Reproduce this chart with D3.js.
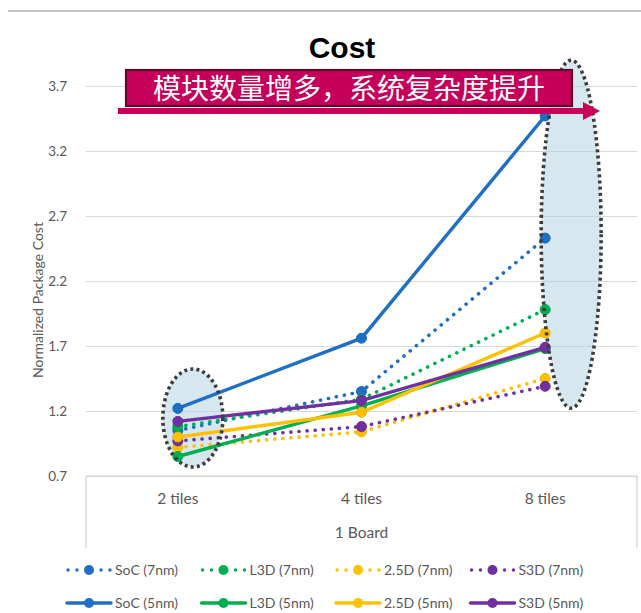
<!DOCTYPE html>
<html>
<head>
<meta charset="utf-8">
<script src="https://cdn.jsdelivr.net/npm/d3@7/dist/d3.min.js"></script>
<style>
  html, body { margin: 0; padding: 0; background: #ffffff; }
  svg { display: block; }
</style>
</head>
<body>
<svg id="chart" width="641" height="613"></svg>
<script>
// Package cost by tile count, normalized
const categories = ["2 tiles", "4 tiles", "8 tiles"];
const groupLabel = "1 Board";
const yTicks = [0.7, 1.2, 1.7, 2.2, 2.7, 3.2, 3.7];

const seriesNames = ["SoC (7nm)", "L3D (7nm)", "2.5D (7nm)", "S3D (7nm)",
                     "SoC (5nm)", "L3D (5nm)", "2.5D (5nm)", "S3D (5nm)"];
const soc7  = [1.05, 1.35, 2.53];
const l3d7  = [1.08, 1.29, 1.98];
const d25_7 = [0.92, 1.04, 1.45];
const s3d7  = [0.97, 1.08, 1.39];
const soc5  = [1.22, 1.76, 3.47];
const l3d5  = [0.85, 1.24, 1.68];
const d25_5 = [1.00, 1.19, 1.80];
const s3d5  = [1.12, 1.28, 1.69];
const seriesValues = [soc7, l3d7, d25_7, s3d7, soc5, l3d5, d25_5, s3d5];
const seriesColors = ["#1f6fc5", "#00b050", "#ffc000", "#7030a0",
                      "#1f6fc5", "#00b050", "#ffc000", "#7030a0"];
const seriesDotted = [true, true, true, true, false, false, false, false];

const titleText = "Cost";
const yAxisTitle = "Normalized Package Cost";
const bannerText = "模块数量增多，系统复杂度提升";

const svg = d3.select("#chart");
const font = "Lato, 'Open Sans', 'Liberation Sans', sans-serif";
const gray = "#595959";

const plot = { left: 86, right: 637, top: 86, bottom: 476 };
const x = d3.scaleBand().domain(categories).range([plot.left, plot.right]);
const cx = c => x(c) + x.bandwidth() / 2;
const y = d3.scaleLinear().domain([0.7, 3.7]).range([plot.bottom, plot.top]);

// frame line along the top
svg.append("line").attr("x1", 8).attr("x2", 641).attr("y1", 11).attr("y2", 11)
  .attr("stroke", "#b0b0b0").attr("stroke-width", 1.5);

// horizontal gridlines + y tick labels
const yAxis = d3.axisLeft(y).tickValues(yTicks).tickSize(-(plot.right - plot.left))
  .tickFormat(d3.format(".1f")).tickPadding(19);
const gy = svg.append("g").attr("transform", `translate(${plot.left},0)`).call(yAxis);
gy.select(".domain").remove();
gy.selectAll(".tick line").attr("stroke", "#d9d9d9").attr("stroke-width", 1.2);
gy.selectAll(".tick text").attr("fill", gray).attr("font-family", font)
  .attr("font-size", 13.5);

// category axis box
const gx = svg.append("g");
gx.append("line").attr("x1", plot.left).attr("x2", plot.right)
  .attr("y1", plot.bottom).attr("y2", plot.bottom).attr("stroke", "#d0d0d0").attr("stroke-width", 1.2);
[plot.left, plot.right].forEach(px => {
  gx.append("line").attr("x1", px).attr("x2", px).attr("y1", plot.bottom).attr("y2", 548)
    .attr("stroke", "#d0d0d0").attr("stroke-width", 1.2);
});
gx.selectAll("text.cat").data(categories).join("text")
  .attr("class", "cat").attr("x", d => cx(d)).attr("y", 504)
  .attr("text-anchor", "middle").attr("fill", gray)
  .attr("font-family", font).attr("font-size", 15.5).text(d => d);
gx.append("text").attr("x", (plot.left + plot.right) / 2).attr("y", 538)
  .attr("text-anchor", "middle").attr("fill", gray)
  .attr("font-family", font).attr("font-size", 15.5).text(groupLabel);

// axis title
svg.append("text")
  .attr("transform", `translate(43,${300}) rotate(-90)`)
  .attr("text-anchor", "middle").attr("fill", gray)
  .attr("font-family", font).attr("font-size", 14).text(yAxisTitle);

// chart title
svg.append("text").attr("x", 342).attr("y", 58).attr("text-anchor", "middle")
  .attr("font-family", "'Liberation Sans', Arial, sans-serif").attr("font-weight", "bold")
  .attr("font-size", 30).attr("fill", "#000").text(titleText);

// highlight ellipses (fill below lines, dotted outline above)
const ellipses = [
  { cx: cx("2 tiles") + 15, cy: y(1.146), rx: 30, ry: 49 },
  { cx: cx("8 tiles") + 26, cy: y(2.56), rx: 30, ry: 174 }
];
svg.append("g").selectAll("ellipse").data(ellipses).join("ellipse")
  .attr("cx", d => d.cx).attr("cy", d => d.cy).attr("rx", d => d.rx).attr("ry", d => d.ry)
  .attr("fill", "rgba(180, 212, 228, 0.55)");

// series lines and markers
const line = d3.line().x((d, i) => cx(categories[i])).y(d => y(d));
const gSeries = svg.append("g");
seriesValues.forEach((vals, s) => {
  const g = gSeries.append("g");
  g.append("path").datum(vals).attr("d", line).attr("fill", "none")
    .attr("stroke", seriesColors[s]).attr("stroke-width", seriesDotted[s] ? 3.6 : 3.4)
    .attr("stroke-linecap", "round")
    .attr("stroke-dasharray", seriesDotted[s] ? "0.1 8" : null);
  g.selectAll("circle").data(vals).join("circle")
    .attr("cx", (d, i) => cx(categories[i])).attr("cy", d => y(d))
    .attr("r", 5).attr("fill", seriesColors[s])
    .attr("stroke", d3.color(seriesColors[s]).darker(0.2)).attr("stroke-width", 1);
});

svg.append("g").selectAll("ellipse").data(ellipses).join("ellipse")
  .attr("cx", d => d.cx).attr("cy", d => d.cy).attr("rx", d => d.rx).attr("ry", d => d.ry)
  .attr("fill", "none").attr("stroke", "#3c3c3c").attr("stroke-width", 3.6)
  .attr("stroke-dasharray", "3 3.2");

// banner with arrow
const ga = svg.append("g");
ga.append("rect").attr("x", 118).attr("y", 108).attr("width", 466).attr("height", 6)
  .attr("fill", "#c8005a");
ga.append("path").attr("d", "M583,102 L600,111 L583,120 Z").attr("fill", "#c8005a");
ga.append("rect").attr("x", 126).attr("y", 70).attr("width", 446).attr("height", 36)
  .attr("fill", "#c4005a").attr("stroke", "#5e0a2c").attr("stroke-width", 2.2);
ga.append("text").attr("x", 349).attr("y", 99).attr("text-anchor", "middle")
  .attr("font-family", "'Noto Sans CJK SC', sans-serif").attr("font-size", 28)
  .attr("fill", "#ffffff").text(bannerText);

// legend
const lg = svg.append("g");
seriesNames.forEach((name, s) => {
  const col = s % 4, row = Math.floor(s / 4);
  const lx = 67 + col * 134.5, ly = 570 + row * 33;
  const it = lg.append("g").attr("transform", `translate(${lx},${ly})`);
  const segs = seriesDotted[s] ? [[1, 10], [34, 43]] : [[0, 44]];
  segs.forEach(([a, b]) => {
    it.append("line").attr("x1", a).attr("x2", b).attr("y1", 0).attr("y2", 0)
      .attr("stroke", seriesColors[s]).attr("stroke-width", 3.4).attr("stroke-linecap", "round")
      .attr("stroke-dasharray", seriesDotted[s] ? "0.1 8.8" : null);
  });
  it.append("circle").attr("cx", 22).attr("cy", 0).attr("r", 5).attr("fill", seriesColors[s]);
  it.append("text").attr("x", 48).attr("y", 5).attr("fill", gray)
    .attr("font-family", font).attr("font-size", 14).text(name);
});
</script>
</body>
</html>
